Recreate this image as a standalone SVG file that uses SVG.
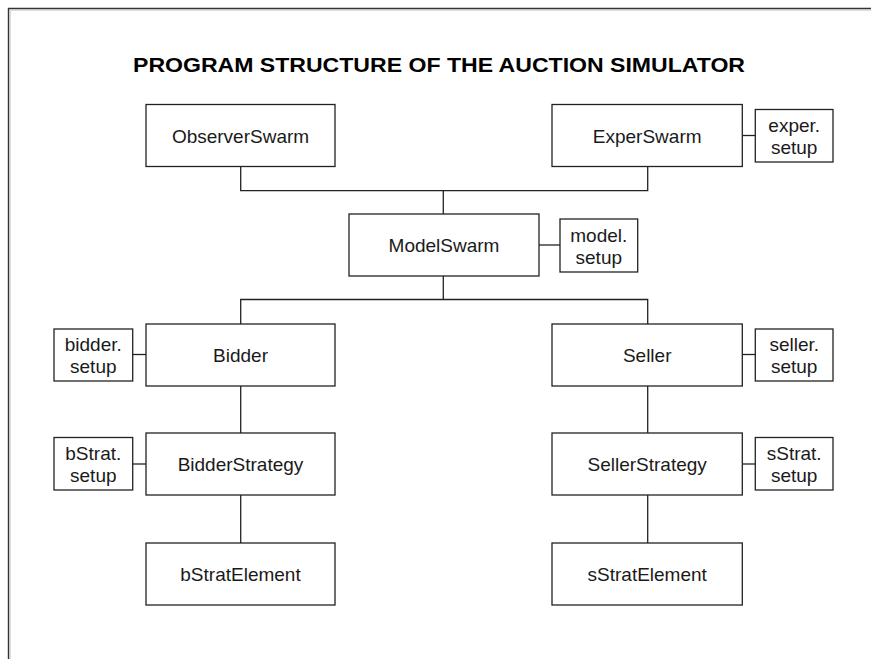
<svg xmlns="http://www.w3.org/2000/svg" width="871" height="659" viewBox="0 0 871 659">
<style>
.box{fill:#fff;stroke:#222;stroke-width:1.3}
.lbl{font-family:"Liberation Sans",Arial,sans-serif;font-size:19px;fill:#1a1a1a;text-anchor:middle}
.con{fill:none;stroke:#222;stroke-width:1.3}
.title{font-family:"Liberation Sans",Arial,sans-serif;font-size:20px;font-weight:bold;fill:#000}
</style>
<rect x="0" y="0" width="871" height="659" fill="#fff"/>
<g id="frame">
<path d="M8.5,659 V8.5 H871" fill="none" stroke="#333" stroke-width="1.4"/>
<path d="M10,659 V10 H871" fill="none" stroke="#bbb" stroke-width="1"/>
</g>
<text class="title" x="133" y="72" textLength="612" lengthAdjust="spacingAndGlyphs">PROGRAM STRUCTURE OF THE AUCTION SIMULATOR</text>
<g id="connectors">
<path class="con" d="M240.7,166 V190.7 H647.7 V166"/>
<path class="con" d="M443.3,190.7 V214"/>
<path class="con" d="M742.3,135.5 H755.3"/>
<path class="con" d="M539,245 H560"/>
<path class="con" d="M443.3,276 V299.5"/>
<path class="con" d="M240.7,324 V299.5 H647.7 V324"/>
<path class="con" d="M132.7,354.5 H146"/>
<path class="con" d="M742.3,354.5 H755.3"/>
<path class="con" d="M240.7,386 V433"/>
<path class="con" d="M647.7,386 V433"/>
<path class="con" d="M132.7,464 H146"/>
<path class="con" d="M742.3,464 H755.3"/>
<path class="con" d="M240.7,495 V543"/>
<path class="con" d="M647.7,495 V543"/>
</g>
<g id="ObserverSwarm"><rect class="box" x="146" y="104.5" width="189" height="62"/><text class="lbl" x="240.5" y="142.5">ObserverSwarm</text></g>
<g id="ExperSwarm"><rect class="box" x="552" y="104.5" width="190.3" height="62"/><text class="lbl" x="647.2" y="142.5">ExperSwarm</text></g>
<g id="experSetup"><rect class="box" x="755.3" y="109.5" width="77.7" height="52.5"/><text class="lbl" x="794.2" y="131.5">exper.</text><text class="lbl" x="794.2" y="153.5">setup</text></g>
<g id="ModelSwarm"><rect class="box" x="349" y="214" width="190" height="62"/><text class="lbl" x="444" y="251.7">ModelSwarm</text></g>
<g id="modelSetup"><rect class="box" x="560" y="219" width="77.7" height="53"/><text class="lbl" x="598.8" y="242">model.</text><text class="lbl" x="598.8" y="263.5">setup</text></g>
<g id="Bidder"><rect class="box" x="146" y="324" width="189" height="62"/><text class="lbl" x="240.5" y="361.7">Bidder</text></g>
<g id="bidderSetup"><rect class="box" x="54" y="329" width="78.7" height="52"/><text class="lbl" x="93.3" y="351">bidder.</text><text class="lbl" x="93.3" y="373">setup</text></g>
<g id="Seller"><rect class="box" x="552" y="324" width="190.3" height="62"/><text class="lbl" x="647.2" y="361.7">Seller</text></g>
<g id="sellerSetup"><rect class="box" x="755.3" y="329" width="77.7" height="52"/><text class="lbl" x="794.2" y="351">seller.</text><text class="lbl" x="794.2" y="373">setup</text></g>
<g id="BidderStrategy"><rect class="box" x="146" y="433" width="189" height="62"/><text class="lbl" x="240.5" y="470.7">BidderStrategy</text></g>
<g id="bStratSetup"><rect class="box" x="54" y="437.5" width="78.7" height="52.5"/><text class="lbl" x="93.3" y="460">bStrat.</text><text class="lbl" x="93.3" y="482">setup</text></g>
<g id="SellerStrategy"><rect class="box" x="552" y="433" width="190.3" height="62"/><text class="lbl" x="647.2" y="470.7">SellerStrategy</text></g>
<g id="sStratSetup"><rect class="box" x="755.3" y="437.5" width="77.7" height="52.5"/><text class="lbl" x="794.2" y="460">sStrat.</text><text class="lbl" x="794.2" y="482">setup</text></g>
<g id="bStratElement"><rect class="box" x="146" y="543" width="189" height="62"/><text class="lbl" x="240.5" y="580.7">bStratElement</text></g>
<g id="sStratElement"><rect class="box" x="552" y="543" width="190.3" height="62"/><text class="lbl" x="647.2" y="580.7">sStratElement</text></g>
</svg>
